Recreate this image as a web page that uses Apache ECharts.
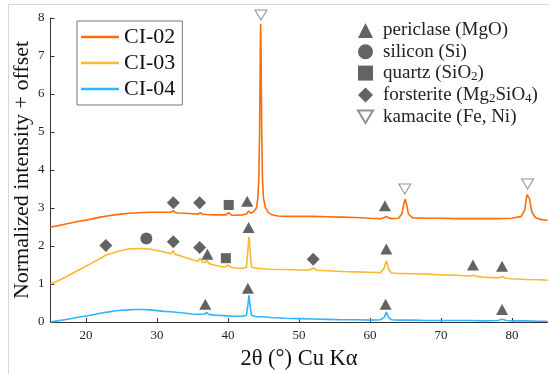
<!DOCTYPE html>
<html><head><meta charset="utf-8">
<script src="https://cdn.jsdelivr.net/npm/echarts@6/dist/echarts.min.js"></script>
<style>html,body{margin:0;padding:0;background:#fff}#c{width:549px;height:374px}</style>
</head><body><div id="c"></div>
<script>
// ---- data ----
const xTicks = [20, 30, 40, 50, 60, 70, 80];
const yTicks = [0, 1, 2, 3, 4, 5, 6, 7, 8];
const xName = '2θ (°) Cu Kα';
const yName = 'Normalized intensity + offset';

const ci02 = [[15,2.50],[16,2.53],[17,2.57],[18,2.61],[19,2.65],[20,2.68],[21,2.72],[22,2.76],[23,2.79],[24,2.82],[25,2.84],[26,2.86],[27,2.87],[28,2.88],[29,2.89],[30,2.89],[31,2.89],[32,2.89],[32.3,2.93],[32.6,2.88],[33,2.87],[34,2.86],[35,2.85],[35.8,2.84],[36.1,2.88],[36.4,2.84],[37,2.83],[38,2.82],[39,2.82],[39.7,2.82],[40.1,2.88],[40.5,2.81],[41,2.81],[42,2.82],[42.6,2.84],[42.9,2.92],[43.2,2.86],[43.6,2.9],[44.0,3.0],[44.2,3.25],[44.35,3.8],[44.45,5.0],[44.55,7.2],[44.6,7.85],[44.65,7.2],[44.75,5.0],[44.85,3.8],[45.0,3.25],[45.3,3.0],[45.7,2.88],[46.2,2.82],[47,2.79],[48,2.78],[50,2.78],[52,2.78],[54,2.77],[56,2.76],[58,2.75],[60,2.73],[61.5,2.72],[62.0,2.75],[62.3,2.78],[62.6,2.74],[63,2.72],[64,2.73],[64.5,2.85],[64.75,3.1],[64.95,3.23],[65.15,3.1],[65.4,2.85],[66,2.74],[68,2.73],[70,2.73],[72,2.72],[74,2.72],[76,2.72],[78,2.72],[80,2.73],[81.3,2.78],[81.8,2.95],[82.1,3.35],[82.25,3.40],[82.45,3.25],[82.8,2.9],[83.3,2.75],[84,2.70],[85,2.67]];

const ci03 = [[15,1.00],[16,1.08],[17,1.17],[18,1.27],[19,1.37],[20,1.47],[21,1.57],[22,1.67],[22.7,1.75],[23,1.77],[24,1.83],[25,1.88],[26,1.92],[27,1.93],[28,1.93],[29,1.92],[30,1.88],[31,1.84],[32,1.80],[32.3,1.88],[32.5,1.79],[33,1.76],[34,1.70],[35,1.64],[35.8,1.60],[36.1,1.68],[36.4,1.58],[36.8,1.57],[37.0,1.63],[37.3,1.54],[38,1.50],[39,1.46],[39.6,1.45],[40,1.50],[40.4,1.44],[41,1.42],[42,1.41],[42.6,1.44],[42.8,1.9],[42.95,2.24],[43.1,1.9],[43.3,1.45],[44,1.41],[45,1.40],[46,1.39],[48,1.38],[50,1.37],[51.5,1.37],[52.0,1.42],[52.5,1.36],[54,1.35],[56,1.33],[58,1.32],[60,1.31],[61.5,1.30],[62.0,1.42],[62.3,1.61],[62.6,1.40],[63,1.29],[64,1.28],[66,1.27],[68,1.26],[70,1.24],[72,1.23],[74,1.21],[74.5,1.23],[75,1.20],[76,1.18],[78,1.16],[78.6,1.20],[79.2,1.15],[80,1.14],[82,1.12],[84,1.11],[85,1.10]];

const ci04 = [[15,0.00],[16,0.03],[17,0.06],[18,0.09],[19,0.13],[20,0.16],[21,0.19],[22,0.23],[23,0.26],[24,0.29],[25,0.31],[26,0.32],[27,0.33],[28,0.33],[29,0.32],[30,0.30],[31,0.28],[32,0.27],[33,0.25],[34,0.23],[35,0.21],[36,0.20],[36.7,0.21],[37.0,0.25],[37.3,0.20],[38,0.18],[39,0.17],[40,0.16],[41,0.15],[42,0.15],[42.6,0.18],[42.8,0.45],[42.95,0.70],[43.1,0.45],[43.3,0.18],[44,0.14],[45,0.14],[46,0.12],[48,0.10],[50,0.09],[52,0.08],[54,0.07],[56,0.06],[58,0.06],[60,0.05],[61.5,0.06],[62.0,0.12],[62.3,0.26],[62.6,0.12],[63,0.06],[64,0.05],[66,0.05],[68,0.04],[70,0.04],[72,0.04],[74,0.04],[76,0.03],[78,0.04],[78.6,0.07],[79.2,0.04],[80,0.03],[82,0.03],[84,0.02],[85,0.02]];

const periclase = [[42.7,3.18],[42.9,2.49],[37.1,1.78],[42.8,0.89],[36.8,0.47],[62.1,3.06],[62.3,1.92],[74.5,1.50],[78.6,1.47],[62.2,0.47],[78.6,0.33]];
const silicon = [[28.5,2.20]];
const quartz = [[40.1,3.08],[39.7,1.68]];
const forsterite = [[32.3,3.14],[36.0,3.14],[22.8,2.01],[32.3,2.11],[36.0,1.96],[52.0,1.65]];
const kamacite = [[44.65,8.08],[64.9,3.50],[82.2,3.63]];

const lineNames = ['CI-02', 'CI-03', 'CI-04'];
const phaseNames = ['periclase (MgO)', 'silicon (Si)', 'quartz (SiO2)', 'forsterite (Mg2SiO4)', 'kamacite (Fe, Ni)'];

// ---- chart ----
const FONT = '"Liberation Serif", "Times New Roman", serif';
const MK = '#3c3c3c';
const chart = echarts.init(document.getElementById('c'), null, {renderer: 'canvas'});
function lineSeries(name, data, color) {
  return {name, type: 'line', data, showSymbol: false, symbol: 'none',
    lineStyle: {color, width: 1.6}, itemStyle: {color}, animation: false, z: 2};
}
function mkSeries(name, data, symbol, size, style) {
  return {name, type: 'scatter', data, symbol, symbolSize: size, clip: false,
    itemStyle: style, animation: false, z: 3, emphasis: {disabled: true}};
}
const subMap = {'quartz (SiO2)': 'quartz (SiO{s|2})', 'forsterite (Mg2SiO4)': 'forsterite (Mg{s|2}SiO{s|4})'};
chart.setOption({
  animation: false,
  graphic: [
    {type: 'rect', shape: {x: 8.5, y: 4.5, width: 700, height: 500}, style: {fill: 'none', stroke: '#d6d6d6', lineWidth: 1}, z: -10},
    {type: 'text', x: 22.5, y: 170, rotation: Math.PI / 2,
     style: {text: yName, fontFamily: FONT, fontSize: 22, fill: '#111', align: 'center', verticalAlign: 'middle'}},
    {type: 'text', x: 299, y: 359,
     style: {text: xName, fontFamily: FONT, fontSize: 22.5, fill: '#111', align: 'center', verticalAlign: 'middle'}}
  ],
  grid: {left: 50.5, right: 1.5, top: 18, bottom: 52, outerBoundsMode: 'none', containLabel: false},
  legend: [
    {data: lineNames, orient: 'vertical', left: 77, top: 21, padding: [5, 7, 5, 4], itemGap: 4,
     itemWidth: 38, itemHeight: 2.5, icon: 'rect', borderColor: '#777', borderWidth: 1,
     textStyle: {fontFamily: FONT, fontSize: 22, color: '#111'}, selectedMode: false},
    {data: phaseNames, orient: 'vertical', left: 357, top: 21, padding: 0, itemGap: 2.3,
     itemWidth: 15, itemHeight: 15,
     formatter: n => subMap[n] || n,
     textStyle: {fontFamily: FONT, fontSize: 19, color: '#222', padding: [0, 0, 0, 5],
       rich: {s: {fontFamily: FONT, fontSize: 13, color: '#222', padding: [7, 0, 0, 0]}}},
     selectedMode: false}
  ],
  xAxis: {type: 'value', min: 15, max: 85,
    axisLine: {lineStyle: {color: '#333', width: 1}},
    axisTick: {inside: true, length: 4, customValues: xTicks, lineStyle: {color: '#333'}},
    axisLabel: {customValues: xTicks, fontFamily: FONT, fontSize: 13, color: '#222', margin: 7},
    splitLine: {show: false}},
  yAxis: {type: 'value', min: 0, max: 8, interval: 1,
    axisLine: {show: true, lineStyle: {color: '#333', width: 1}},
    axisTick: {show: true, inside: true, length: 4, lineStyle: {color: '#333'}},
    axisLabel: {fontFamily: FONT, fontSize: 13, color: '#222', margin: 6},
    splitLine: {show: false}},
  series: [
    lineSeries('CI-02', ci02, '#ff6c0a'),
    lineSeries('CI-03', ci03, '#fdb832'),
    lineSeries('CI-04', ci04, '#30b4ff'),
    mkSeries('periclase (MgO)', periclase, 'triangle', [12, 11], {color: MK}),
    mkSeries('silicon (Si)', silicon, 'circle', 12, {color: MK}),
    mkSeries('quartz (SiO2)', quartz, 'rect', 10, {color: MK}),
    mkSeries('forsterite (Mg2SiO4)', forsterite, 'diamond', 13, {color: MK}),
    mkSeries('kamacite (Fe, Ni)', kamacite, 'path://M0,0 L12,0 L6,10 Z', [12, 10], {color: '#fff', borderColor: '#777', borderWidth: 1})
  ]
});
</script></body></html>
